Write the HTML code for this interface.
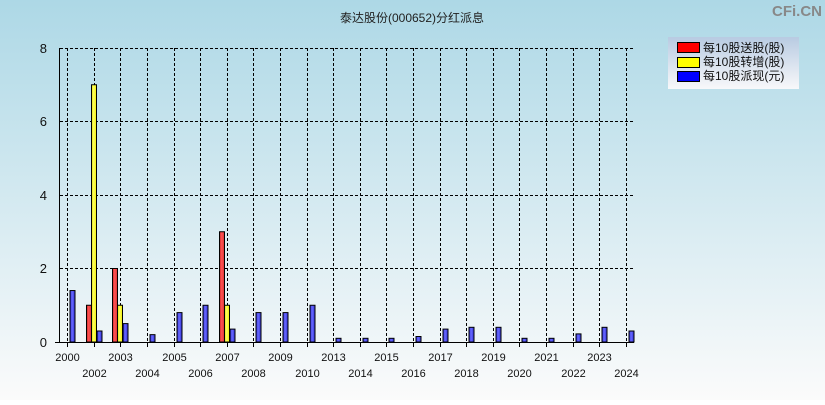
<!DOCTYPE html>
<html><head><meta charset="utf-8"><style>
html,body{margin:0;padding:0;}
body{width:825px;height:400px;overflow:hidden;font-family:"Liberation Sans","Noto Sans CJK SC",sans-serif;}
</style></head><body>
<svg width="825" height="400" xmlns="http://www.w3.org/2000/svg" font-family="Liberation Sans, Noto Sans CJK SC, sans-serif">
<defs>
<linearGradient id="bg" x1="0" y1="0" x2="0" y2="1">
<stop offset="0" stop-color="#add8e6"/><stop offset="1" stop-color="#fbfbfb"/></linearGradient>
<linearGradient id="lg" x1="0" y1="0" x2="0" y2="1">
<stop offset="0" stop-color="#b8cbe2"/><stop offset="1" stop-color="#f8f8fa"/></linearGradient>
<linearGradient id="rb" x1="0" x2="1"><stop offset="0" stop-color="#c22"/><stop offset="0.4" stop-color="#ff5555"/><stop offset="1" stop-color="#d33"/></linearGradient>
<linearGradient id="yb" x1="0" x2="1"><stop offset="0" stop-color="#dd0"/><stop offset="0.4" stop-color="#ffff66"/><stop offset="1" stop-color="#ee0"/></linearGradient>
<linearGradient id="bb" x1="0" x2="1"><stop offset="0" stop-color="#22c"/><stop offset="0.4" stop-color="#6a6aff"/><stop offset="1" stop-color="#33d"/></linearGradient>
</defs>
<rect width="825" height="400" fill="url(#bg)"/>
<text x="412" y="22" font-size="12" text-anchor="middle" fill="#222">泰达股份(000652)分红派息</text>
<text x="822" y="16" font-size="15" font-weight="bold" text-anchor="end" fill="#888">CFi.CN</text>
<g stroke="#000" stroke-dasharray="3,2" stroke-width="1">
<line x1="60" y1="48.5" x2="634" y2="48.5"/><line x1="60" y1="121.5" x2="634" y2="121.5"/>
<line x1="60" y1="195.5" x2="634" y2="195.5"/><line x1="60" y1="268.5" x2="634" y2="268.5"/>
<path d="M67.5 48V342M94.5 48V342M120.5 48V342M147.5 48V342M174.5 48V342M200.5 48V342M227.5 48V342M253.5 48V342M280.5 48V342M307.5 48V342M333.5 48V342M360.5 48V342M386.5 48V342M413.5 48V342M440.5 48V342M466.5 48V342M493.5 48V342M519.5 48V342M546.5 48V342M573.5 48V342M599.5 48V342M626.5 48V342"/>
</g>
<path stroke="#000" d="M67.5 342V347M94.5 342V347M120.5 342V347M147.5 342V347M174.5 342V347M200.5 342V347M227.5 342V347M253.5 342V347M280.5 342V347M307.5 342V347M333.5 342V347M360.5 342V347M386.5 342V347M413.5 342V347M440.5 342V347M466.5 342V347M493.5 342V347M519.5 342V347M546.5 342V347M573.5 342V347M599.5 342V347M626.5 342V347"/>
<g stroke="#000" stroke-width="1">
<rect x="86.5" y="305.25" width="5" height="36.75" fill="url(#rb)"/>
<rect x="91.5" y="84.75" width="5" height="257.25" fill="url(#yb)"/>
<rect x="112.5" y="268.5" width="5" height="73.5" fill="url(#rb)"/>
<rect x="117.5" y="305.25" width="5" height="36.75" fill="url(#yb)"/>
<rect x="219.5" y="231.75" width="5" height="110.25" fill="url(#rb)"/>
<rect x="224.5" y="305.25" width="5" height="36.75" fill="url(#yb)"/>
<g fill="url(#bb)">
<rect x="70" y="290.55" width="5" height="51.45"/>
<rect x="97" y="331" width="5" height="11"/>
<rect x="123" y="323.6" width="5" height="18.4"/>
<rect x="150" y="334.65" width="5" height="7.35"/>
<rect x="177" y="312.6" width="5" height="29.4"/>
<rect x="203" y="305.25" width="5" height="36.75"/>
<rect x="230" y="329.1" width="5" height="12.9"/>
<rect x="256" y="312.6" width="5" height="29.4"/>
<rect x="283" y="312.6" width="5" height="29.4"/>
<rect x="310" y="305.25" width="5" height="36.75"/>
<rect x="336" y="338.3" width="5" height="3.7"/>
<rect x="363" y="338.3" width="5" height="3.7"/>
<rect x="389" y="338.3" width="5" height="3.7"/>
<rect x="416" y="336.5" width="5" height="5.5"/>
<rect x="443" y="329.1" width="5" height="12.9"/>
<rect x="469" y="327.3" width="5" height="14.7"/>
<rect x="496" y="327.3" width="5" height="14.7"/>
<rect x="522" y="338.3" width="5" height="3.7"/>
<rect x="549" y="338.3" width="5" height="3.7"/>
<rect x="576" y="333.9" width="5" height="8.1"/>
<rect x="602" y="327.3" width="5" height="14.7"/>
<rect x="629" y="331" width="5" height="11"/>
</g>
</g>
<line x1="59.5" y1="48" x2="59.5" y2="342" stroke="#000"/>
<line x1="55" y1="342.5" x2="634" y2="342.5" stroke="#000"/>
<g font-size="13" fill="#111" text-anchor="end">
<text x="47" y="53">8</text><text x="47" y="126">6</text><text x="47" y="200">4</text><text x="47" y="273">2</text><text x="47" y="347">0</text>
</g>
<g font-size="11" fill="#111" text-anchor="middle">
<text x="67.5" y="361">2000</text><text x="94.5" y="377">2002</text>
<text x="120.5" y="361">2003</text><text x="147.5" y="377">2004</text>
<text x="174.5" y="361">2005</text><text x="200.5" y="377">2006</text>
<text x="227.5" y="361">2007</text><text x="253.5" y="377">2008</text>
<text x="280.5" y="361">2009</text><text x="307.5" y="377">2010</text>
<text x="333.5" y="361">2013</text><text x="360.5" y="377">2014</text>
<text x="386.5" y="361">2015</text><text x="413.5" y="377">2016</text>
<text x="440.5" y="361">2017</text><text x="466.5" y="377">2018</text>
<text x="493.5" y="361">2019</text><text x="519.5" y="377">2020</text>
<text x="546.5" y="361">2021</text><text x="573.5" y="377">2022</text>
<text x="599.5" y="361">2023</text><text x="626.5" y="377">2024</text>
</g>
<rect x="668" y="37" width="131" height="52" fill="url(#lg)"/>
<rect x="677.5" y="42.5" width="22" height="10" fill="#f00" stroke="#000"/>
<rect x="677.5" y="57.5" width="22" height="10" fill="#ff0" stroke="#000"/>
<rect x="677.5" y="71.5" width="22" height="10" fill="#00f" stroke="#000"/>
<g font-size="12" fill="#111">
<text x="703" y="52">每10股送股(股)</text>
<text x="703" y="66">每10股转增(股)</text>
<text x="703" y="80">每10股派现(元)</text>
</g>
</svg>
</body></html>
